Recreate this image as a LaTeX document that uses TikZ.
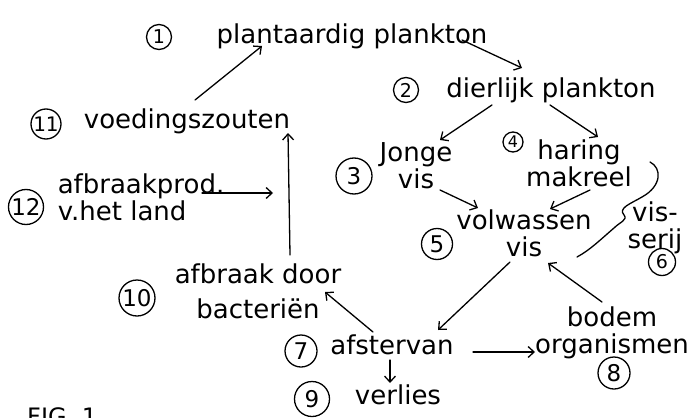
\documentclass[tikz,border=0pt]{standalone}
\usepackage{fontspec}
\setmainfont{DejaVu Sans}
\usetikzlibrary{arrows.meta}
\newcommand{\hand}{\fontsize{26}{27}\selectfont}
\newcommand{\handnum}{\fontsize{23}{23}\selectfont}

\begin{document}
\begin{tikzpicture}[x=1pt, y=-1pt,
    txt/.style={align=center, inner sep=2pt, font=\hand},
    num/.style={circle, draw, line width=1.3pt, inner sep=0pt, minimum size=34pt, font=\handnum},
    smallnum/.style={num, minimum size=25pt, font=\fontsize{19}{19}\selectfont},
    arrow/.style={-{Straight Barb[length=6pt,width=11pt]}, line width=1.3pt, line cap=round},
    stroke/.style={line width=1.3pt, line cap=round, line join=round}
  ]
    \fill[white] (0,0) rectangle (692,417);
    \useasboundingbox (0,0) rectangle (692,417);
    \clip (0,0) rectangle (692,417);
    % text nodes
    \node[txt] (p1) at (352,36) {plantaardig plankton};
    \node[txt] (p2) at (551,90) {dierlijk plankton};
    \node[txt] (p3) at (416,166) {Jonge\\vis};
    \node[txt] (p4) at (579,163) {haring\\makreel};
    \node[txt] (p5) at (524,233) {volwassen\\vis};
    \node[txt] (p6) at (655,228) {vis-\\serij};
    \node[txt] (p7) at (392,345) {afstervan};
    \node[txt] (p8) at (612,333) {bodem\\organismen};
    \node[txt] (p9) at (398,395) {verlies};
    \node[txt] (p10) at (258,291) {afbraak door\\[8pt]bacteriën};
    \node[txt] (p11) at (187,121) {voedingszouten};
    \node[txt, align=left] (p12) at (141,197) {afbraakprod.\\v.het land};
    \node[anchor=north west, inner sep=0pt, font=\fontsize{24}{24}\selectfont] (fig) at (27,407) {FIG. 1};
    % numbers
    \node[smallnum] (c1) at (159,37) {1};
    \node[smallnum] (c2) at (406,90) {2};
    \node[num, minimum size=36pt] (c3) at (354,176) {3};
    \node[smallnum, minimum size=20pt, font=\fontsize{16}{16}\selectfont] (c4) at (513,142) {4};
    \node[num, minimum size=31pt] (c5) at (437,244) {5};
    \node[smallnum, minimum size=27pt] (c6) at (662,262) {6};
    \node[num, minimum size=32pt] (c7) at (301,351) {7};
    \node[num, minimum size=32pt] (c8) at (614,373) {8};
    \node[num, minimum size=35pt] (c9) at (312,399) {9};
    \node[num, minimum size=36pt] (c10) at (137,298) {10};
    \node[num, minimum size=30pt, font=\fontsize{20}{20}\selectfont] (c11) at (46,124) {11};
    \node[num, minimum size=35pt] (c12) at (26,207) {12};
    % connectors
    \coordinate (in12) at (273,193);
    \coordinate (vs1) at (650,162);
    \coordinate (vs2) at (577,257);
    \draw[arrow] ([shift={(8,-21)}]p11.center) -- ([shift={(-90,10)}]p1.center);
    \draw[arrow] ([shift={(110,4)}]p1.center) -- ([shift={(-29,-22)}]p2.center);
    \draw[arrow] ([shift={(-59,15)}]p2.center) -- ([shift={(24,-26)}]p3.center);
    \draw[arrow] ([shift={(-1,15)}]p2.center) -- ([shift={(19,-26)}]p4.center);
    \draw[arrow] ([shift={(24,24)}]p3.center) -- ([shift={(-46,-25)}]p5.center);
    \draw[arrow] ([shift={(11,27)}]p4.center) -- ([shift={(26,-24)}]p5.center);
    \draw[arrow] ([shift={(-14,29)}]p5.center) -- ([shift={(46,-15)}]p7.center);
    \draw[arrow] ([shift={(-10,-31)}]p8.center) -- ([shift={(24,30)}]p5.center);
    \draw[arrow] ([shift={(81,7)}]p7.center) -- ([shift={(-77,19)}]p8.center);
    \draw[arrow] ([shift={(-2,15)}]p7.center) -- ([shift={(-8,-12)}]p9.center);
    \draw[arrow] ([shift={(-19,-13)}]p7.center) -- ([shift={(67,1)}]p10.center);
    \draw[arrow] ([shift={(32,-36)}]p10.center) -- ([shift={(101,12)}]p11.center);
    \draw[arrow] ([shift={(61,-4)}]p12.center) -- (in12);
    % visserij
    \draw[stroke] (vs1) .. controls (662,168) and (662,186) .. (642,197)
      .. controls (630,204) and (618,208) .. (624,215)
      .. controls (628,220) and (620,222) .. (614,228)
      .. controls (600,240) and (590,250) .. (vs2);
  \end{tikzpicture}
\end{document}
